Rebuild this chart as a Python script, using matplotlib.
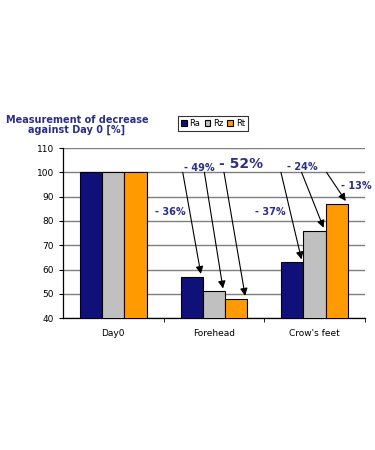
import numpy as np
import matplotlib.pyplot as plt

categories = ['Day0', 'Forehead', "Crow's feet"]
series_names = ['Ra', 'Rz', 'Rt']
ra_values = [100, 57, 63]
rz_values = [100, 51, 76]
rt_values = [100, 48, 87]

# arrow labels: (text, bar group, series index)
arrow_labels = ['- 36%', '- 49%', '- 52%', '- 37%', '- 24%', '- 13%']
arrow_groups = [1, 1, 1, 2, 2, 2]
arrow_series = [0, 1, 2, 0, 1, 2]

colors = ['#10107A', '#C0C0C0', '#FF9A00']
text_blue = '#2B2F86'

fig = plt.figure(figsize=(3.75, 4.5), dpi=100)
ax = fig.add_axes([0.168, 0.293, 0.805, 0.378])

x = np.arange(len(categories))
width = 0.22
all_values = [ra_values, rz_values, rt_values]
for i, (name, vals) in enumerate(zip(series_names, all_values)):
    ax.bar(x + (i - 1) * width, vals, width, color=colors[i], edgecolor='black',
           linewidth=0.8, label=name, zorder=3)

ax.set_xlim(-0.5, 2.5)
ax.set_ylim(40, 110)
ax.set_yticks(np.arange(40, 111, 10))
ax.set_xticks(x)
ax.set_xticklabels(categories, fontsize=6.5)
ax.tick_params(axis='y', labelsize=6.5, length=3, direction='out')
ax.tick_params(axis='x', length=0, pad=8)
# tick marks between categories
ax.set_xticks([0.5, 1.5, 2.5], minor=True)
ax.tick_params(axis='x', which='minor', length=3, direction='out')
ax.grid(axis='y', color='#7F7F7F', linewidth=1.0, zorder=0)
ax.set_axisbelow(True)
for side in ['top', 'right']:
    ax.spines[side].set_visible(False)
ax.spines['left'].set_linewidth(0.9)
ax.spines['bottom'].set_linewidth(0.9)

# arrows from the 100 line down to the bar tops
arrow_starts = [0.69, 0.905, 1.10, 1.666, 1.871, 2.119]
for j, (g, s) in enumerate(zip(arrow_groups, arrow_series)):
    bx = x[g] + (s - 1) * width + 0.09
    by = all_values[s][g] + 1.2
    ax.annotate('', xy=(bx, by), xytext=(arrow_starts[j], 100),
                arrowprops=dict(arrowstyle='-|>', color='black', lw=0.8,
                                mutation_scale=11, shrinkA=0, shrinkB=0),
                zorder=5)

label_pos = [(0.563, 83.8), (0.855, 101.9), (1.27, 103.6),
             (1.563, 83.8), (1.874, 102.2), (2.417, 94.4)]
label_size = [7, 7, 10, 7, 7, 7]
for lab, (lx, ly), fs in zip(arrow_labels, label_pos, label_size):
    ax.text(lx, ly, lab, color=text_blue, fontsize=fs, fontweight='bold',
            ha='center', va='center', zorder=6)

fig.text(0.205, 0.722, 'Measurement of decrease\nagainst Day 0 [%]',
         color=text_blue, fontsize=7, fontweight='bold', ha='center',
         va='center', linespacing=1.05)

leg = fig.legend(loc='center', bbox_to_anchor=(0.568, 0.725), ncol=3, fontsize=6,
                 frameon=True, fancybox=False, edgecolor='black',
                 handlelength=0.7, handleheight=0.7, handletextpad=0.3,
                 columnspacing=0.5, borderpad=0.35, borderaxespad=0)
leg.get_frame().set_linewidth(0.8)

fig.savefig('out.png', dpi=100)
